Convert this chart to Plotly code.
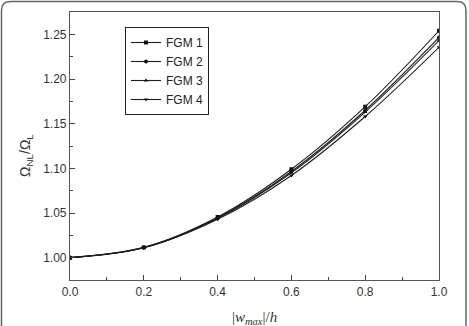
import plotly.graph_objects as go

x_vals = [0.0, 0.2, 0.4, 0.6, 0.8, 1.0]
fgm1 = [1.0, 1.0115, 1.0455, 1.0990, 1.1690, 1.2540]
fgm2 = [1.0, 1.0113, 1.0445, 1.0965, 1.1650, 1.2465]
fgm3 = [1.0, 1.0112, 1.0440, 1.0950, 1.1630, 1.2430]
fgm4 = [1.0, 1.0110, 1.0430, 1.0920, 1.1580, 1.2355]
names = ["FGM 1", "FGM 2", "FGM 3", "FGM 4"]
symbols = ["square", "circle", "triangle-up", "triangle-down"]
series = [fgm1, fgm2, fgm3, fgm4]

W, H = 469, 326
ML, MR, MT, MB = 70, 30, 12, 46
pw, ph = W - ML - MR, H - MT - MB

fig = go.Figure()
for name, sym, ys in zip(names, symbols, series):
    fig.add_trace(go.Scatter(
        x=x_vals, y=ys, name=name, mode="lines+markers",
        line=dict(color="#1e1e1e", width=1.1, shape="spline", smoothing=1.0),
        marker=dict(symbol=sym, size=4, color="#111111"),
    ))

axis_common = dict(
    showgrid=False, zeroline=False, showline=True, linecolor="#555555",
    linewidth=1.2, mirror=True, ticks="inside", ticklen=5, tickwidth=1,
    tickcolor="#444444",
    tickfont=dict(family="Liberation Sans, Arial", size=12, color="#333333"),
)

fig.update_layout(
    width=W, height=H,
    margin=dict(l=ML, r=MR, t=MT, b=MB, pad=0),
    paper_bgcolor="white", plot_bgcolor="white",
    showlegend=True,
    legend=dict(
        x=(125 - ML) / pw, y=(H - MB - 27) / ph, xanchor="left", yanchor="top",
        bordercolor="#222222", borderwidth=1, bgcolor="white",
        font=dict(family="Liberation Sans, Arial", size=12, color="#222222"),
        tracegroupgap=0, itemwidth=30,
    ),
    xaxis=dict(
        range=[0, 1.0], tickvals=[0, 0.2, 0.4, 0.6, 0.8, 1.0],
        ticktext=["0.0", "0.2", "0.4", "0.6", "0.8", "1.0"],
        minor=dict(ticks="inside", ticklen=3, dtick=0.1, tick0=0, tickcolor="#444444"),
        **axis_common,
    ),
    yaxis=dict(
        range=[0.975, 1.275], tickvals=[1.0, 1.05, 1.10, 1.15, 1.20, 1.25],
        ticktext=["1.00", "1.05", "1.10", "1.15", "1.20", "1.25"],
        minor=dict(ticks="inside", ticklen=3, dtick=0.025, tick0=0.975, tickcolor="#444444"),
        **axis_common,
    ),
)

# axis titles
fig.add_annotation(
    xref="paper", yref="paper", x=(26 - ML) / pw, y=(H - MB - 156) / ph,
    text="Ω<sub>NL</sub>/Ω<sub>L</sub>", textangle=-90, showarrow=False,
    font=dict(family="Liberation Sans, Arial", size=14, color="#333333"),
    xanchor="center", yanchor="middle",
)
fig.add_annotation(
    xref="paper", yref="paper", x=0.5, y=(H - MB - 318) / ph,
    text="|<i>w</i><sub><i>max</i></sub>|/<i>h</i>", showarrow=False,
    font=dict(family="Liberation Serif, Times New Roman", size=15, color="#333333"),
    xanchor="center", yanchor="middle",
)

# outer rounded frame
x0, x1 = (1.5 - ML) / pw, (466 - ML) / pw
y1, y0 = (H - MB - 1.5) / ph, (H - MB - 340) / ph
rx, ry = 9 / pw, 9 / ph
path = (f"M {x0+rx},{y1} L {x1-rx},{y1} Q {x1},{y1} {x1},{y1-ry} "
        f"L {x1},{y0+ry} Q {x1},{y0} {x1-rx},{y0} L {x0+rx},{y0} "
        f"Q {x0},{y0} {x0},{y0+ry} L {x0},{y1-ry} Q {x0},{y1} {x0+rx},{y1} Z")
fig.add_shape(type="path", xref="paper", yref="paper", path=path,
              line=dict(color="#666666", width=1.5), layer="below")

fig.write_html("out.html")
